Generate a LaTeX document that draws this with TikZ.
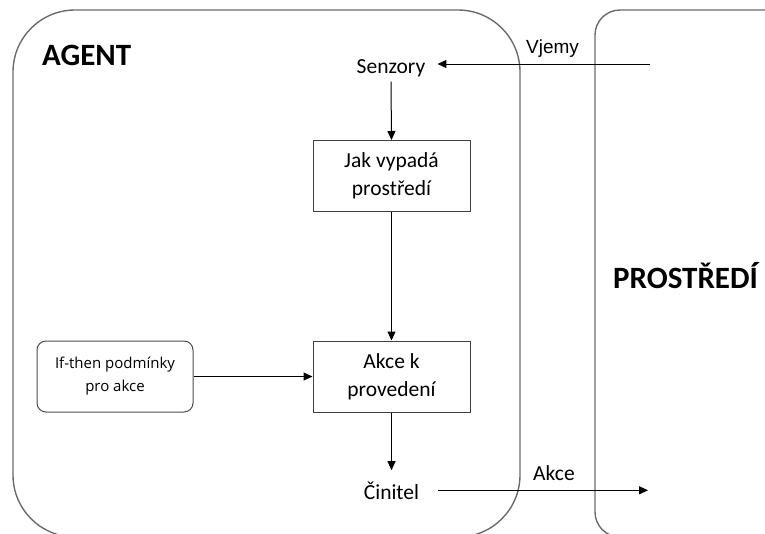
\documentclass[tikz,border=0pt]{standalone}
\usepackage{fontspec}
\setmainfont{Carlito}
\newfontfamily\labelfont{Liberation Sans}
\newfontfamily\rulefont{Open Sans}
\usetikzlibrary{arrows.meta}

\tikzset{
  frame/.style={draw=black!58, line width=1.4pt},
  flowbox/.style={draw=black!75, line width=1pt, minimum width=157pt, minimum height=71pt,
    align=center, inner sep=2pt, font=\fontsize{21.5}{28}\selectfont},
  rulebox/.style={draw=black!70, line width=1pt, rounded corners=9pt, minimum width=156pt,
    minimum height=71pt, align=center, inner sep=2pt, font=\rulefont\fontsize{15}{23}\selectfont},
  plain/.style={inner sep=0pt, font=\fontsize{21.5}{26}\selectfont},
  title/.style={inner sep=0pt, font=\bfseries\fontsize{31}{36}\selectfont},
  link/.style={draw=black, line width=1pt, -{Triangle[length=9pt,width=8pt]}},
}

\begin{document}
\begin{tikzpicture}[x=1pt, y=-1pt]
  \useasboundingbox (0,0) rectangle (765,533);

  % agent and environment frames, running off the page edges
  \begin{scope}
    \clip (0,0) rectangle (765,533);
    \draw[frame, rounded corners=62pt] (13,10) rectangle (520,537);
    \draw[frame, rounded corners=25pt] (595,10) rectangle (820,537);
  \end{scope}

  % titles
  \node[title, anchor=base west] (agent) at (42,65) {AGENT};
  \node[title, anchor=base west] (env) at (613,288) {PROSTŘEDÍ};

  % agent internals
  \node[plain, anchor=base, inner xsep=12pt, inner ysep=5pt] (senz) at (391,73) {Senzory};
  \node[flowbox] (jak) at (391.5,176) {Jak vypadá\\prostředí};
  \node[flowbox] (akce) at (391.5,376.5) {Akce k\\provedení};
  \node[rulebox] (rules) at (115,376.5) {If-then podmínky\\pro akce};
  \node[plain, anchor=base, inner xsep=19pt, inner ysep=11pt] (cin) at (391.5,499) {Činitel};

  % percepts in, actions out
  \coordinate (vin) at (650,64);
  \coordinate (aout) at (648,492);
  \node[anchor=base west, inner sep=0pt, font=\labelfont\fontsize{19}{22}\selectfont] (vjemy) at (526,53) {Vjemy};
  \node[plain, anchor=base west] (akcelab) at (533,480) {Akce};

  \draw[link] (vin) -- (vin -| senz.east);
  \draw[link] (senz.south) -- (jak.north);
  \draw[link] (jak.south) -- (akce.north);
  \draw[link] (rules.east) -- (akce.west);
  \draw[link] (akce.south) -- (cin.north);
  \draw[link] (cin.east) -- (cin.east -| aout);
\end{tikzpicture}
\end{document}
